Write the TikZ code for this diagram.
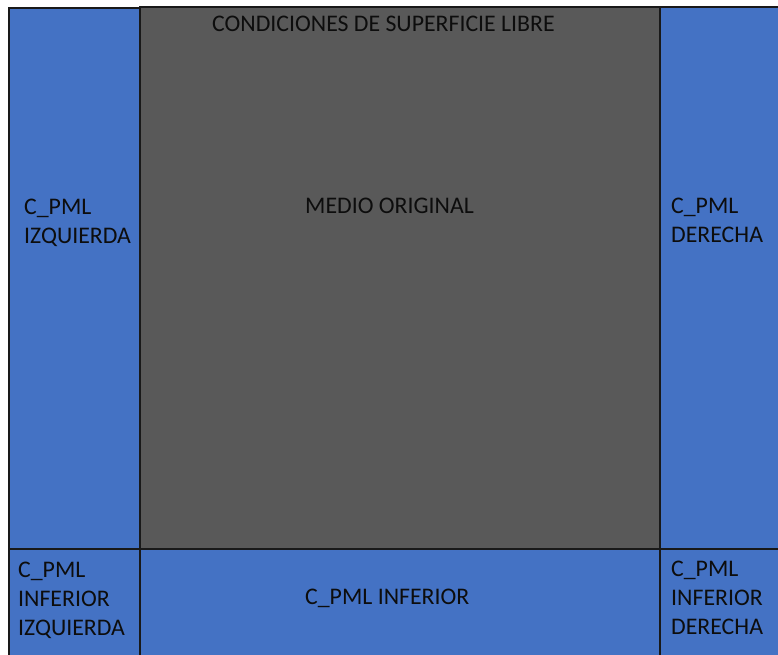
\documentclass[tikz,border=0pt]{standalone}
\usepackage{fontspec}
\setmainfont{Carlito}
\definecolor{pmlblue}{HTML}{4472C4}
\definecolor{medgray}{HTML}{595959}
\definecolor{txt}{HTML}{0D0D0D}
\begin{document}
\begin{tikzpicture}[x=1pt,y=-1pt,
  region/.style={draw=black!90,line width=1.3pt},
  pml/.style={region,fill=pmlblue},
  medio/.style={region,fill=medgray},
  lbl/.style={inner sep=0pt,anchor=north west,align=left,text=txt,
    font=\fontsize{23.8}{28.8}\selectfont}]
\useasboundingbox (0,0) rectangle (778,654);
\path[pml] (9,8) rectangle (140,549) node[pos=0.5] (izq) {};
\path[medio] (140,7) rectangle (660,549) node[pos=0.5] (med) {};
\path[pml] (660,7) rectangle (782,549) node[pos=0.5] (der) {};
\path[pml] (9,549) rectangle (140,658) node[pos=0.5] (infizq) {};
\path[pml] (140,549) rectangle (660,658) node[pos=0.5] (inf) {};
\path[pml] (660,549) rectangle (782,658) node[pos=0.5] (infder) {};
\node[lbl] (tsup) at (212,16) {CONDICIONES DE SUPERFICIE LIBRE};
\node[lbl] (tmed) at (305,198) {MEDIO ORIGINAL};
\node[lbl] (tizq) at (24,199) {C\_PML\\IZQUIERDA};
\node[lbl] (tder) at (671,198) {C\_PML\\DERECHA};
\node[lbl] (tinfizq) at (18,562) {C\_PML\\INFERIOR\\IZQUIERDA};
\node[lbl] (tinf) at (305,589) {C\_PML INFERIOR};
\node[lbl] (tinfder) at (671,561) {C\_PML\\INFERIOR\\DERECHA};
\end{tikzpicture}
\end{document}
